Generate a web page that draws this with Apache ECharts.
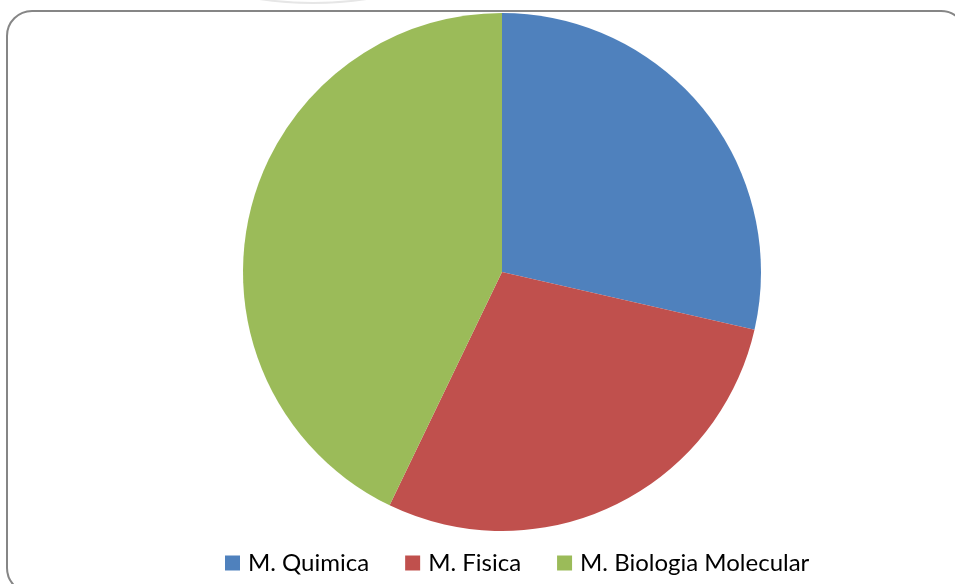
<!DOCTYPE html>
<html>
<head>
<meta charset="utf-8">
<script src="https://cdn.jsdelivr.net/npm/echarts@6/dist/echarts.min.js"></script>
<style>
html,body{margin:0;padding:0;background:#fff;}
#chart{width:955px;height:584px;}
</style>
</head>
<body>
<div id="chart"></div>
<script>
var categories = ['M. Quimica', 'M. Fisica', 'M. Biologia Molecular'];
var values = [2, 2, 3];
var colors = ['#4F81BD', '#C0504D', '#9BBB59'];

var chart = echarts.init(document.getElementById('chart'), null, {renderer: 'canvas'});
chart.setOption({
  animation: false,
  backgroundColor: '#ffffff',
  color: colors,
  graphic: [
    {
      type: 'circle',
      shape: {cx: 313, cy: -354, r: 357},
      style: {fill: 'none', stroke: '#e6e6e6', lineWidth: 2},
      z: 0
    },
    {
      type: 'rect',
      shape: {x: 7, y: 11, width: 959, height: 582, r: 25},
      style: {fill: 'none', stroke: '#868686', lineWidth: 2},
      z: 0
    }
  ],
  legend: {
    data: categories,
    left: 220,
    top: 546,
    itemWidth: 15,
    itemHeight: 15,
    itemGap: 36,
    icon: 'rect',
    textStyle: {fontFamily: 'Lato', fontSize: 24, color: '#000', padding: [0, 0, 0, 3]}
  },
  series: [{
    type: 'pie',
    center: [502, 272],
    radius: [0, 259],
    startAngle: 90,
    clockwise: true,
    label: {show: false},
    labelLine: {show: false},
    itemStyle: {borderWidth: 0},
    emphasis: {disabled: true},
    data: categories.map(function (c, i) { return {name: c, value: values[i]}; })
  }]
});
</script>
</body>
</html>
